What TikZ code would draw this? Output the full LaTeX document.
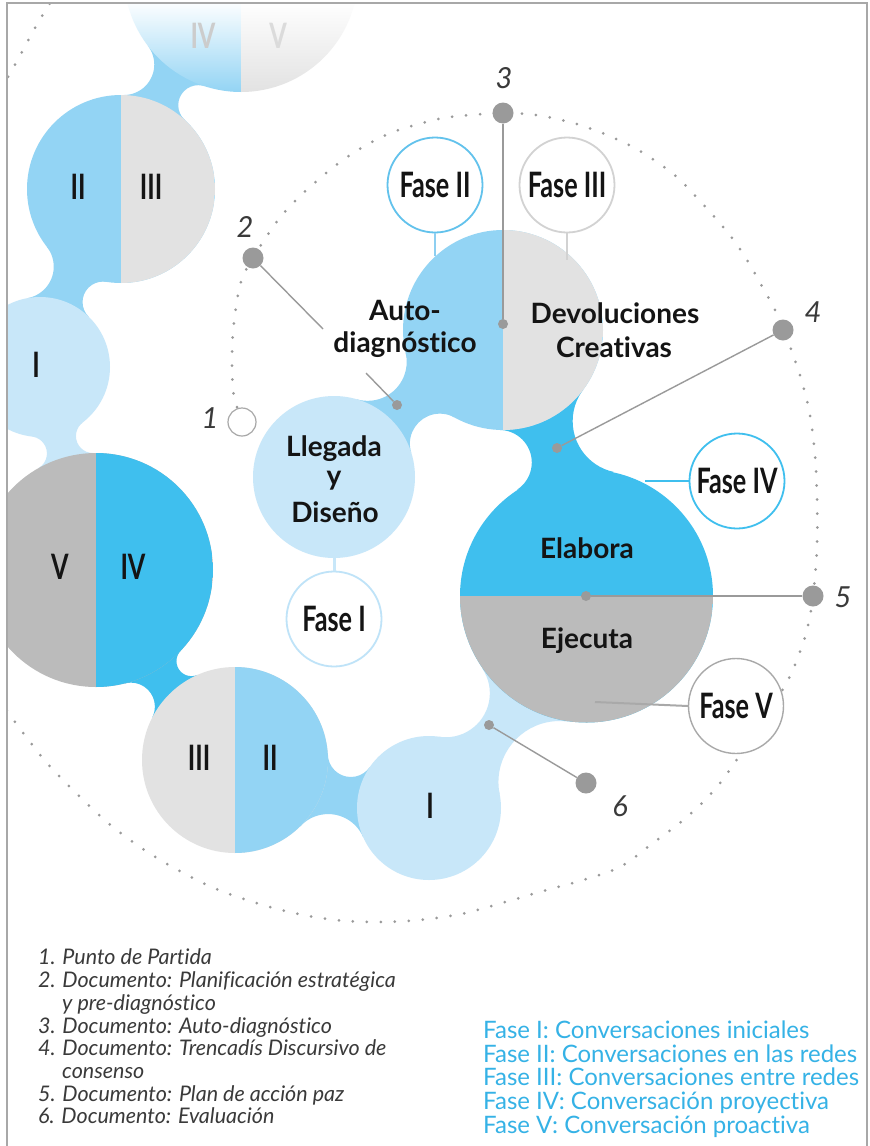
\documentclass[tikz,border=0pt]{standalone}
\usepackage{fontspec}
\setmainfont{Lato}[Ligatures=NoCommon]
\newfontfamily\condf[FakeStretch=0.72]{Lato}
\usetikzlibrary{calc}
\definecolor{lblue}{HTML}{C8E7F9}
\definecolor{mblue}{HTML}{93D4F4}
\definecolor{bblue}{HTML}{3FBFEE}
\definecolor{lgray}{HTML}{E2E2E2}
\definecolor{mgray}{HTML}{BBBBBB}
\definecolor{dotgray}{HTML}{9A9A9A}
\definecolor{frameg}{HTML}{A8A8A8}
\definecolor{legblue}{HTML}{35B2E6}
\definecolor{legtext}{HTML}{3A3A3A}
\definecolor{labtext}{HTML}{141414}
\definecolor{f1col}{HTML}{BFE3F8}
\definecolor{f2col}{HTML}{62C2EC}
\definecolor{f2stick}{HTML}{8DCFF1}
\definecolor{f3col}{HTML}{D2D2D2}
\definecolor{f5col}{HTML}{A9A9A9}

\newcommand\stemblob[7]{%
  \path let \p1=(#1), \p2=(#3),
      \n1={scalar(veclen(\x2-(\x1),\y2-(\y1)))/100},
      \n2={acos((((#2+#6)/100)^2+(\n1)^2-((#4+#6)/100)^2)/(2*(\n1)*(#2+#6)/100))},
      \n3={acos((((#4+#6)/100)^2+(\n1)^2-((#2+#6)/100)^2)/(2*(\n1)*(#4+#6)/100))},
      \n4={acos((((#2+#7)/100)^2+(\n1)^2-((#4+#7)/100)^2)/(2*(\n1)*(#2+#7)/100))},
      \n5={acos((((#4+#7)/100)^2+(\n1)^2-((#2+#7)/100)^2)/(2*(\n1)*(#4+#7)/100))},
      \n6={(#2+#6)/(100*\n1)}, \n7={#2/(100*\n1)}, \n8={#4/(100*\n1)}, \n9={(#2+#7)/(100*\n1)}
    in coordinate (sK1) at ($(\p1)!\n6!\n2:(\p2)$)
       coordinate (sA1) at ($(\p1)!\n7!\n2:(\p2)$)
       coordinate (sB1) at ($(\p2)!\n8!-\n3:(\p1)$)
       coordinate (sK2) at ($(\p1)!\n9!-\n4:(\p2)$)
       coordinate (sA2) at ($(\p1)!\n7!-\n4:(\p2)$)
       coordinate (sB2) at ($(\p2)!\n8!\n5:(\p1)$);
  \begin{scope}
    \clip (sA1) -- (sB1) -- (sB2) -- (sA2) -- cycle;
    \fill[#5, even odd rule] (-200,-300) rectangle (1100,1400)
       (sK1) circle[radius=#6pt] (sK2) circle[radius=#7pt];
  \end{scope}}

\tikzset{
  blob/.style={circle, inner sep=0pt, outer sep=0pt, draw=none, minimum size=#1},
  vsplit/.style={path picture={\fill[#1] (path picture bounding box.north) rectangle (path picture bounding box.south east);}},
  hsplit/.style={path picture={\fill[#1] (path picture bounding box.west) rectangle (path picture bounding box.south east);}},
  romanlab/.style={inner sep=0pt, text=labtext, font=\fontsize{35}{35}\selectfont\condf\bfseries},
  mainlab/.style={inner sep=0pt, anchor=base, text=labtext, font=\fontsize{28}{28}\selectfont\bfseries},
  fasebub/.style={circle, fill=white, line width=1.8pt, minimum size=95pt, inner sep=0pt, text=labtext, font=\fontsize{35}{35}\selectfont\condf\bfseries},
  bigdot/.style={circle, fill=dotgray, minimum size=21pt, inner sep=0pt},
  smalldot/.style={circle, fill=dotgray, minimum size=10pt, inner sep=0pt},
  numline/.style={draw=dotgray, line width=1.4pt},
  numlab/.style={inner sep=0pt, text=legtext, font=\fontsize{29}{29}\selectfont\itshape},
  spiral/.style={draw=dotgray, line width=3pt, line cap=round, dash pattern=on 0pt off 14pt},
  legk/.style={anchor=base west, inner sep=0pt, text=legtext, font=\fontsize{21.5}{21.5}\selectfont\itshape},
  legb/.style={anchor=base west, inner sep=0pt, text=legblue, font=\fontsize{24}{24}\selectfont},
}

\begin{document}
\begin{tikzpicture}[x=1pt,y=-1pt]
\useasboundingbox (0,0) rectangle (870,1146);
\fill[white] (0,0) rectangle (870,1146);

% circle centres
\coordinate (cLeg) at (334,477);
\coordinate (cAuto) at (503,330);
\coordinate (cElab) at (586.5,596);
\coordinate (cIb) at (429,808);
\coordinate (cIIIb) at (235,760);
\coordinate (cVIV) at (96,570);
\coordinate (cIl) at (40,367);
\coordinate (cIIt) at (121,189);
\coordinate (cTop) at (241,-25);

\begin{scope}
\clip (7,3) rectangle (867,1146);
% dotted spiral
\draw[spiral] plot[smooth, tension=0.55] coordinates {
 (237,407) (233,390) (232,362) (233,333) (236,307) (240,285) (246,270) (253,258)
 (263,242) (278,220) (297,199) (318,180) (340,162) (363,147) (388,134) (415,125)
 (443,118) (470,115) (503,113) (527,114) (553,118) (580,125) (607,135) (633,147)
 (657,162) (678,178) (699,200) (718,221) (735,242) (750,265) (763,288) (775,310)
 (783,330) (792,352) (802,382) (810,415) (815,455) (817,497) (817,547) (813,596)
 (807,630) (798,657) (787,682) (765,718) (742,752) (717,787) (687,817) (653,843)
 (620,867) (583,880) (543,891) (502,903) (461,914) (419,920) (377,922) (335,920)
 (294,913) (253,902) (214,888) (176,869) (140,847) (107,822) (77,794) (47,763)
 (21,730) (0,700) (-30,650) (-58,585) (-78,505) (-86,420) (-82,330) (-68,245)
 (-45,170) (-18,115) (8,77) (35,28) (55,-5)};

% stems
\stemblob{cLeg}{81}{cAuto}{100}{mblue}{39}{30}
\stemblob{cAuto}{100}{cElab}{127}{bblue}{52}{32.5}
\stemblob{cElab}{127}{cIb}{72}{lblue}{61}{44}
\stemblob{cIb}{72}{cIIIb}{93}{mblue}{38}{23}
\stemblob{cIIIb}{93}{cVIV}{117}{bblue}{24}{15}
\stemblob{cVIV}{117}{cIl}{70}{lblue}{17}{17}
\stemblob{cIl}{70}{cIIt}{94}{mblue}{32}{20.5}
\stemblob{cIIt}{94}{cTop}{117}{mblue}{30.5}{20}

% circles
\node[blob=162pt, fill=lblue] (llegada) at (cLeg) {};
\node[blob=200pt, fill=mblue, vsplit=lgray] (auto) at (cAuto) {};
\node[blob=253pt, fill=bblue, hsplit=mgray] (elab) at (cElab) {};
\node[blob=144pt, fill=lblue] (ib) at (cIb) {};
\node[blob=186pt, fill=lgray, vsplit=mblue] (iiib) at (cIIIb) {};
\node[blob=234pt, fill=mgray, vsplit=bblue] (viv) at (cVIV) {};
\node[blob=140pt, fill=lblue] (il) at (cIl) {};
\node[blob=188pt, fill=mblue, vsplit=lgray] (iit) at (cIIt) {};
\begin{scope}
 \clip (cTop) circle[radius=117pt];
 \shade[top color=white, middle color=mblue!40, bottom color=mblue] (100,0) rectangle (241,92);
 \shade[top color=white, middle color=lgray!40, bottom color=lgray] (241,0) rectangle (370,92);
\end{scope}
\end{scope}

% roman numerals
\node[romanlab] (rIIt) at (78,187) {II};
\node[romanlab] (rIIIt) at (151,187) {III};
\node[romanlab] (rIl) at (36,365) {I};
\node[romanlab] (rV) at (60,567) {V};
\node[romanlab] (rIV) at (133,567) {IV};
\node[romanlab] (rIIIb) at (199,758) {III};
\node[romanlab] (rIIb) at (270,758) {II};
\node[romanlab] (rIb) at (430,806) {I};
\node[romanlab, text=black!20] (rIVt) at (203,36) {IV};
\node[romanlab, text=black!14] (rVt) at (278,36) {V};

% fase bubbles and sticks
\coordinate (f2end) at (435,256);
\coordinate (f3end) at (567,260);
\coordinate (f4end) at (645,481);
\coordinate (f5end) at (595,702);
\coordinate (f1end) at (334,556);
\node[fasebub, draw=f2col] (f2) at (435,185) {Fase II};
\node[fasebub, draw=f3col] (f3) at (567,185) {Fase III};
\node[fasebub, draw=bblue] (f4) at (737,481) {Fase IV};
\node[fasebub, draw=f5col, line width=1.4pt] (f5) at (736,706) {Fase V};
\node[fasebub, draw=f1col] (f1) at (334,619) {Fase I};
\draw[f2stick, line width=2pt] (f2.south) -- (f2end);
\draw[f3col, line width=2pt] (f3.south) -- (f3end);
\draw[bblue, line width=2pt] (f4.west) -- (f4end);
\draw[f5col, line width=2pt] (f5.west) -- (f5end);
\draw[lblue, line width=3pt] (f1.north) -- (f1end);

% numbered points
\node[circle, draw=frameg, fill=white, line width=1.2pt, minimum size=28pt, inner sep=0pt] (d1) at (242,422) {};
\node[bigdot] (d2) at (253,258) {};
\node[bigdot] (d3) at (503,113) {};
\node[bigdot] (d4) at (783,330) {};
\node[bigdot] (d5) at (813,596) {};
\node[bigdot] (d6) at (586,783) {};
\node[smalldot] (s2) at (397,405) {};
\node[smalldot] (s3) at (503,324) {};
\node[smalldot] (s4) at (557,448) {};
\node[smalldot] (s5) at (586,596) {};
\node[smalldot] (s6) at (489,725) {};
\coordinate (g2a) at (323,329);
\coordinate (g2b) at (366,373);
\draw[numline] (d2) -- (g2a);
\draw[numline] (g2b) -- (s2);
\draw[numline] (d3) -- (s3);
\draw[numline] (d4) -- (s4);
\draw[numline] (d5) -- (s5);
\draw[numline] (d6) -- (s6);
\node[numlab] (n1) at (210,418) {1};
\node[numlab] (n2) at (245,227) {2};
\node[numlab] (n3) at (504,78) {3};
\node[numlab] (n4) at (813,312) {4};
\node[numlab] (n5) at (843,597) {5};
\node[numlab] (n6) at (620,806) {6};

% main labels
\node[mainlab] (tAuto1) at (405,320) {Auto-};
\node[mainlab] (tAuto2) at (405,352) {diagnóstico};
\node[mainlab] (tDev1) at (615,323) {Devoluciones};
\node[mainlab] (tDev2) at (614,357) {Creativas};
\node[mainlab] (tLl1) at (334,456) {Llegada};
\node[mainlab] (tLl2) at (334,485) {y};
\node[mainlab] (tLl3) at (335,522) {Diseño};
\node[mainlab] (tEl) at (587,558) {Elabora};
\node[mainlab] (tEj) at (587,648) {Ejecuta};

% frame
\draw[frameg, line width=1.5pt] (7,1146) -- (7,3) -- (867,3) -- (867,1146);

% legends
\node[legk] (lk1) at (38,964.5) {1. Punto de Partida};
\node[legk] (lk2) at (38,987) {2. Documento: Planificación estratégica};
\node[legk] (lk3) at (62,1010) {y pre-diagnóstico};
\node[legk] (lk4) at (38,1033) {3. Documento: Auto-diagnóstico};
\node[legk] (lk5) at (38,1055.5) {4. Documento: Trencadís Discursivo de};
\node[legk] (lk6) at (62,1078) {consenso};
\node[legk] (lk7) at (38,1101) {5. Documento: Plan de acción paz};
\node[legk] (lk8) at (38,1123.5) {6. Documento: Evaluación};
\node[legb] (lb1) at (483,1038) {Fase I: Conversaciones iniciales};
\node[legb] (lb2) at (483,1062) {Fase II: Conversaciones en las redes};
\node[legb] (lb3) at (483,1085) {Fase III: Conversaciones entre redes};
\node[legb] (lb4) at (483,1109) {Fase IV: Conversación proyectiva};
\node[legb] (lb5) at (483,1133) {Fase V: Conversación proactiva};
\end{tikzpicture}
\end{document}
